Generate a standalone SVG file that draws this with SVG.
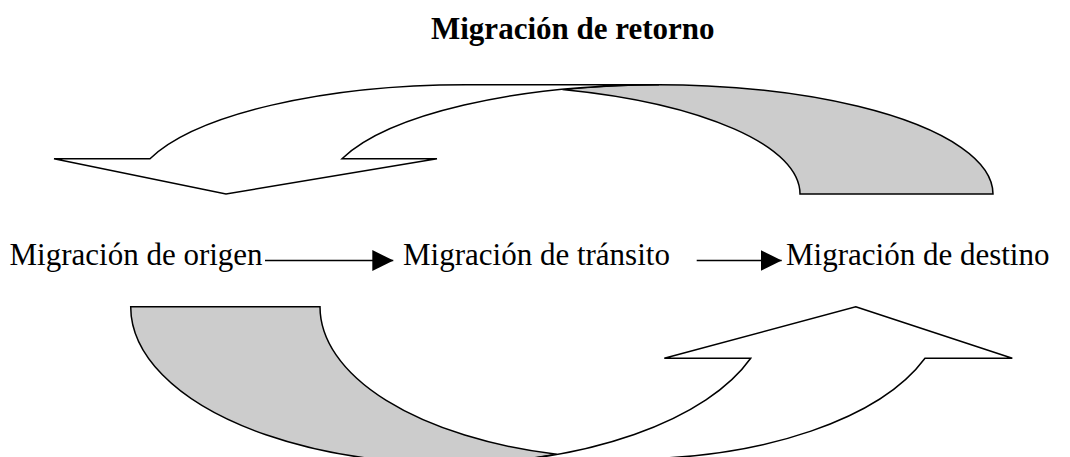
<svg xmlns="http://www.w3.org/2000/svg" width="1070" height="457" viewBox="0 0 1070 457">
  <style>
    .txt { font-family: "Liberation Serif", "Times New Roman", serif; font-size: 31px; fill: #000; }
    .title { font-weight: bold; }
    .front { fill: #ffffff; stroke: #000; stroke-width: 1.5; stroke-linejoin: miter; }
    .back { fill: #cccccc; stroke: #000; stroke-width: 1.5; stroke-linejoin: miter; }
    .conn { stroke: #000; stroke-width: 1.5; fill: none; }
  </style>
  <defs>
    <marker id="head" viewBox="0 0 21 21" refX="21" refY="10.5" markerWidth="21" markerHeight="21" markerUnits="userSpaceOnUse" orient="auto">
      <path d="M0,0 L21,10.5 L0,21 Z" fill="#000"/>
    </marker>
  </defs>
  <rect width="1070" height="457" fill="#fff"/>

  <g id="title">
    <text class="txt title" x="431" y="39">Migración de retorno</text>
  </g>

  <g id="retorno-superior">
    <path class="back" d="M 993,194 A 334 109.3 0 0 0 562.5,89.4 A 334 109.3 0 0 1 800,194 Z"/>
    <path class="front" d="M 54,158.7 L 150,158.7 A 334 109.3 0 0 1 466,84.7 L 659,84.7 A 334 109.3 0 0 0 342,158.7 L 437,158.7 L 226,194 Z"/>
  </g>

  <g id="retorno-inferior">
    <path class="back" d="M 130.7,306.7 A 318.9 156.8 0 0 0 556.7,454.3 A 311.75 152.1 0 0 1 320,306.7 Z"/>
    <path class="front" d="M 855.7,306.7 L 1012.3,358.3 L 925,358.3 A 311.75 152.1 0 0 1 631.75,458.8 L 449.6,463.5 A 318.9 156.8 0 0 0 750.7,358.3 L 664.3,358.3 Z"/>
  </g>

  <g id="node-origen">
    <text class="txt" x="9.5" y="265">Migración de origen</text>
  </g>
  <g id="node-transito">
    <text class="txt" x="403" y="265">Migración de tránsito</text>
  </g>
  <g id="node-destino">
    <text class="txt" x="786" y="265">Migración de destino</text>
  </g>

  <g id="connectors">
    <line class="conn" x1="265" y1="260.5" x2="393.3" y2="260.5" marker-end="url(#head)"/>
    <line class="conn" x1="696.7" y1="260.5" x2="781.7" y2="260.5" marker-end="url(#head)"/>
  </g>
</svg>
